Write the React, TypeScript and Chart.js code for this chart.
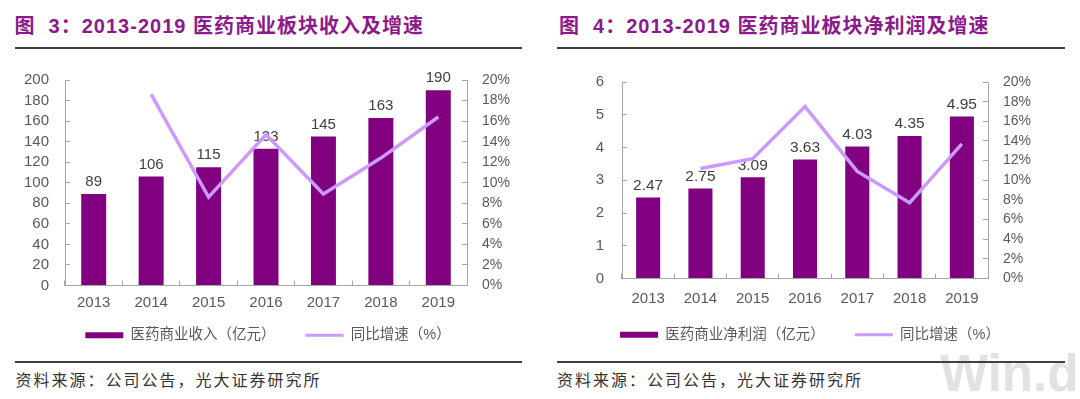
import React, { useEffect, useRef } from 'react';
import { Chart, registerables } from 'chart.js';

Chart.register(...registerables);

const years = ['2013', '2014', '2015', '2016', '2017', '2018', '2019'];
const revenue = [89, 106, 115, 133, 145, 163, 190];
const revenueGrowth = [null, 18.6, 8.6, 14.7, 8.9, 12.4, 16.4];
const profit = [2.47, 2.75, 3.09, 3.63, 4.03, 4.35, 4.95];
const profitGrowth = [null, 11.2, 12.2, 17.5, 10.9, 7.7, 13.7];
const revenueTicks = [0, 20, 40, 60, 80, 100, 120, 140, 160, 180, 200];
const profitTicks = [0, 1, 2, 3, 4, 5, 6];
const pctTicks = [0, 2, 4, 6, 8, 10, 12, 14, 16, 18, 20];

const BAR = '#800080';
const LINE = '#CC99FF';
const TEXT = '#595959';
const AXIS = '#A6A6A6';
const FONT = "'Liberation Sans', Arial, 'Noto Sans CJK SC', sans-serif";

type PanelProps = {
  barLabel: string;
  lineLabel: string;
  bars: number[];
  growth: (number | null)[];
  leftTicks: number[];
  fmt: (v: number) => string;
  width: number;
  height: number;
  leftWidth: number;
  rightWidth: number;
  padTop: number;
  xHeight: number;
  xPad: number;
  leftPad: number;
  rightPad: number;
  barPct: number;
  legendShift: number;
  labelSize: number;
};

function ChartPanel(p: PanelProps) {
  const ref = useRef<HTMLCanvasElement | null>(null);
  useEffect(() => {
    if (!ref.current) return;
    const valueLabels = {
      id: 'valueLabels',
      afterLayout(chart: any) {
        if (chart.legend) {
          chart.legend.top -= p.legendShift;
          chart.legend.bottom -= p.legendShift;
        }
      },
      beforeDatasetsDraw(chart: any) {
        const meta = chart.getDatasetMeta(1);
        const ctx = chart.ctx;
        ctx.save();
        ctx.font = `${p.labelSize}px ${FONT}`;
        ctx.fillStyle = '#404040';
        ctx.textAlign = 'center';
        ctx.textBaseline = 'middle';
        meta.data.forEach((el: any, i: number) => {
          ctx.fillText(p.fmt(p.bars[i]), el.x, el.y - 12);
        });
        ctx.restore();
      },
    };
    const chart = new Chart(ref.current, {
      type: 'bar',
      data: {
        labels: years,
        datasets: [
          {
            type: 'line',
            label: p.lineLabel,
            data: p.growth,
            yAxisID: 'y1',
            borderColor: LINE,
            backgroundColor: LINE,
            borderWidth: 3.5,
            pointRadius: 0,
            tension: 0,
            order: 0,
          } as any,
          {
            type: 'bar',
            label: p.barLabel,
            data: p.bars,
            yAxisID: 'y',
            backgroundColor: BAR,
            categoryPercentage: 1,
            barPercentage: p.barPct,
            order: 1,
          },
        ],
      },
      options: {
        animation: false,
        responsive: false,
        devicePixelRatio: 1,
        layout: { padding: { top: p.padTop, left: 0, right: 0, bottom: 0 } },
        plugins: {
          tooltip: { enabled: false },
          legend: {
            position: 'bottom',
            onClick: () => {},
            labels: {
              usePointStyle: true,
              pointStyleWidth: 38,
              boxHeight: 6,
              padding: 30,
              color: TEXT,
              font: { size: 14.5, family: FONT },
              generateLabels: () => [
                {
                  text: p.barLabel,
                  fillStyle: BAR,
                  strokeStyle: BAR,
                  lineWidth: 0,
                  pointStyle: 'rect',
                  hidden: false,
                  datasetIndex: 1,
                  fontColor: TEXT,
                } as any,
                {
                  text: p.lineLabel,
                  fillStyle: LINE,
                  strokeStyle: LINE,
                  lineWidth: 3,
                  pointStyle: 'line',
                  hidden: false,
                  datasetIndex: 0,
                  fontColor: TEXT,
                } as any,
              ],
            },
          },
        },
        scales: {
          x: {
            type: 'category',
            offset: true,
            grid: {
              display: true,
              offset: true,
              drawOnChartArea: false,
              drawTicks: true,
              tickLength: -5,
              color: AXIS,
            },
            border: { display: true, color: AXIS },
            ticks: { color: TEXT, font: { size: 15, family: FONT }, padding: p.xPad, maxRotation: 0, autoSkip: false },
            afterFit: (s: any) => {
              s.height = p.xHeight;
            },
          },
          y: {
            position: 'left',
            min: p.leftTicks[0],
            max: p.leftTicks[p.leftTicks.length - 1],
            afterBuildTicks: (s: any) => {
              s.ticks = p.leftTicks.map((v) => ({ value: v }));
            },
            grid: {
              display: true,
              drawOnChartArea: false,
              drawTicks: true,
              tickLength: -5,
              color: AXIS,
            },
            border: { display: true, color: AXIS },
            ticks: { color: TEXT, font: { size: 15, family: FONT }, padding: p.leftPad, autoSkip: false },
            afterFit: (s: any) => {
              s.width = p.leftWidth;
            },
          },
          y1: {
            position: 'right',
            min: 0,
            max: 20,
            afterBuildTicks: (s: any) => {
              s.ticks = pctTicks.map((v) => ({ value: v }));
            },
            grid: {
              display: true,
              drawOnChartArea: false,
              drawTicks: true,
              tickLength: -5,
              color: AXIS,
            },
            border: { display: true, color: AXIS },
            ticks: {
              color: TEXT,
              font: { size: 14, family: FONT },
              padding: p.rightPad,
              autoSkip: false,
              callback: (v: any) => `${v}%`,
            },
            afterFit: (s: any) => {
              s.width = p.rightWidth;
            },
          },
        },
      },
      plugins: [valueLabels],
    });
    return () => chart.destroy();
  }, []);
  return <canvas ref={ref} width={p.width} height={p.height} style={{ display: 'block' }} />;
}

const abs = (s: React.CSSProperties): React.CSSProperties => ({ position: 'absolute', ...s });

const titleStyle: React.CSSProperties = {
  fontFamily: FONT,
  fontWeight: 'bold',
  fontSize: 20,
  letterSpacing: 1,
  lineHeight: '24px',
  color: '#8C1A8C',
  whiteSpace: 'pre',
};

const sourceStyle: React.CSSProperties = {
  fontFamily: "'Noto Sans CJK SC', sans-serif",
  fontSize: 16,
  letterSpacing: 2,
  lineHeight: '24px',
  color: '#333333',
  whiteSpace: 'pre',
};

export default function App() {
  return (
    <div
      style={{
        position: 'fixed',
        left: 0,
        top: 0,
        width: 1080,
        height: 399,
        background: '#ffffff',
        overflow: 'hidden',
      }}
    >
      <div
        style={abs({
          left: 940,
          top: 348,
          fontFamily: FONT,
          fontWeight: 'bold',
          fontSize: 51,
          lineHeight: '51px',
          color: '#E2E2E2',
          whiteSpace: 'pre',
        })}
      >
        Win.d
      </div>

      <div style={abs({ ...titleStyle, left: 14.5, top: 13.5 })}>图  3：2013-2019 医药商业板块收入及增速</div>
      <div style={abs({ left: 14.5, top: 47, width: 507, height: 2, background: '#404040' })} />
      <div style={abs({ left: 557, top: 47, width: 508, height: 2, background: '#404040' })} />
      <div style={abs({ ...titleStyle, left: 559, top: 13.5 })}>图  4：2013-2019 医药商业板块净利润及增速</div>

      <div style={abs({ left: 14.5, top: 360.5, width: 507, height: 2, background: '#404040' })} />
      <div style={abs({ ...sourceStyle, left: 15.5, top: 366.5 })}>资料来源：公司公告，光大证券研究所</div>
      <div style={abs({ left: 557, top: 360.5, width: 508, height: 2, background: '#404040' })} />
      <div style={abs({ ...sourceStyle, left: 557, top: 366.5 })}>资料来源：公司公告，光大证券研究所</div>

      <div style={abs({ left: 15, top: 50 })}>
        <ChartPanel
          barLabel="医药商业收入（亿元）"
          lineLabel="同比增速（%）"
          bars={revenue}
          growth={revenueGrowth}
          leftTicks={revenueTicks}
          fmt={(v) => String(v)}
          width={506}
          height={320}
          leftWidth={50}
          rightWidth={54}
          padTop={16}
          xHeight={30}
          xPad={13}
          leftPad={21}
          rightPad={20}
          barPct={0.435}
          legendShift={17.5}
          labelSize={15}
        />
      </div>
      <div style={abs({ left: 575, top: 50 })}>
        <ChartPanel
          barLabel="医药商业净利润（亿元）"
          lineLabel="同比增速（%）"
          bars={profit}
          growth={profitGrowth}
          leftTicks={profitTicks}
          fmt={(v) => v.toFixed(2)}
          width={470}
          height={313}
          leftWidth={47}
          rightWidth={57}
          padTop={17}
          xHeight={30}
          xPad={16}
          leftPad={23}
          rightPad={20}
          barPct={0.46}
          legendShift={11}
          labelSize={15.5}
        />
      </div>
    </div>
  );
}
